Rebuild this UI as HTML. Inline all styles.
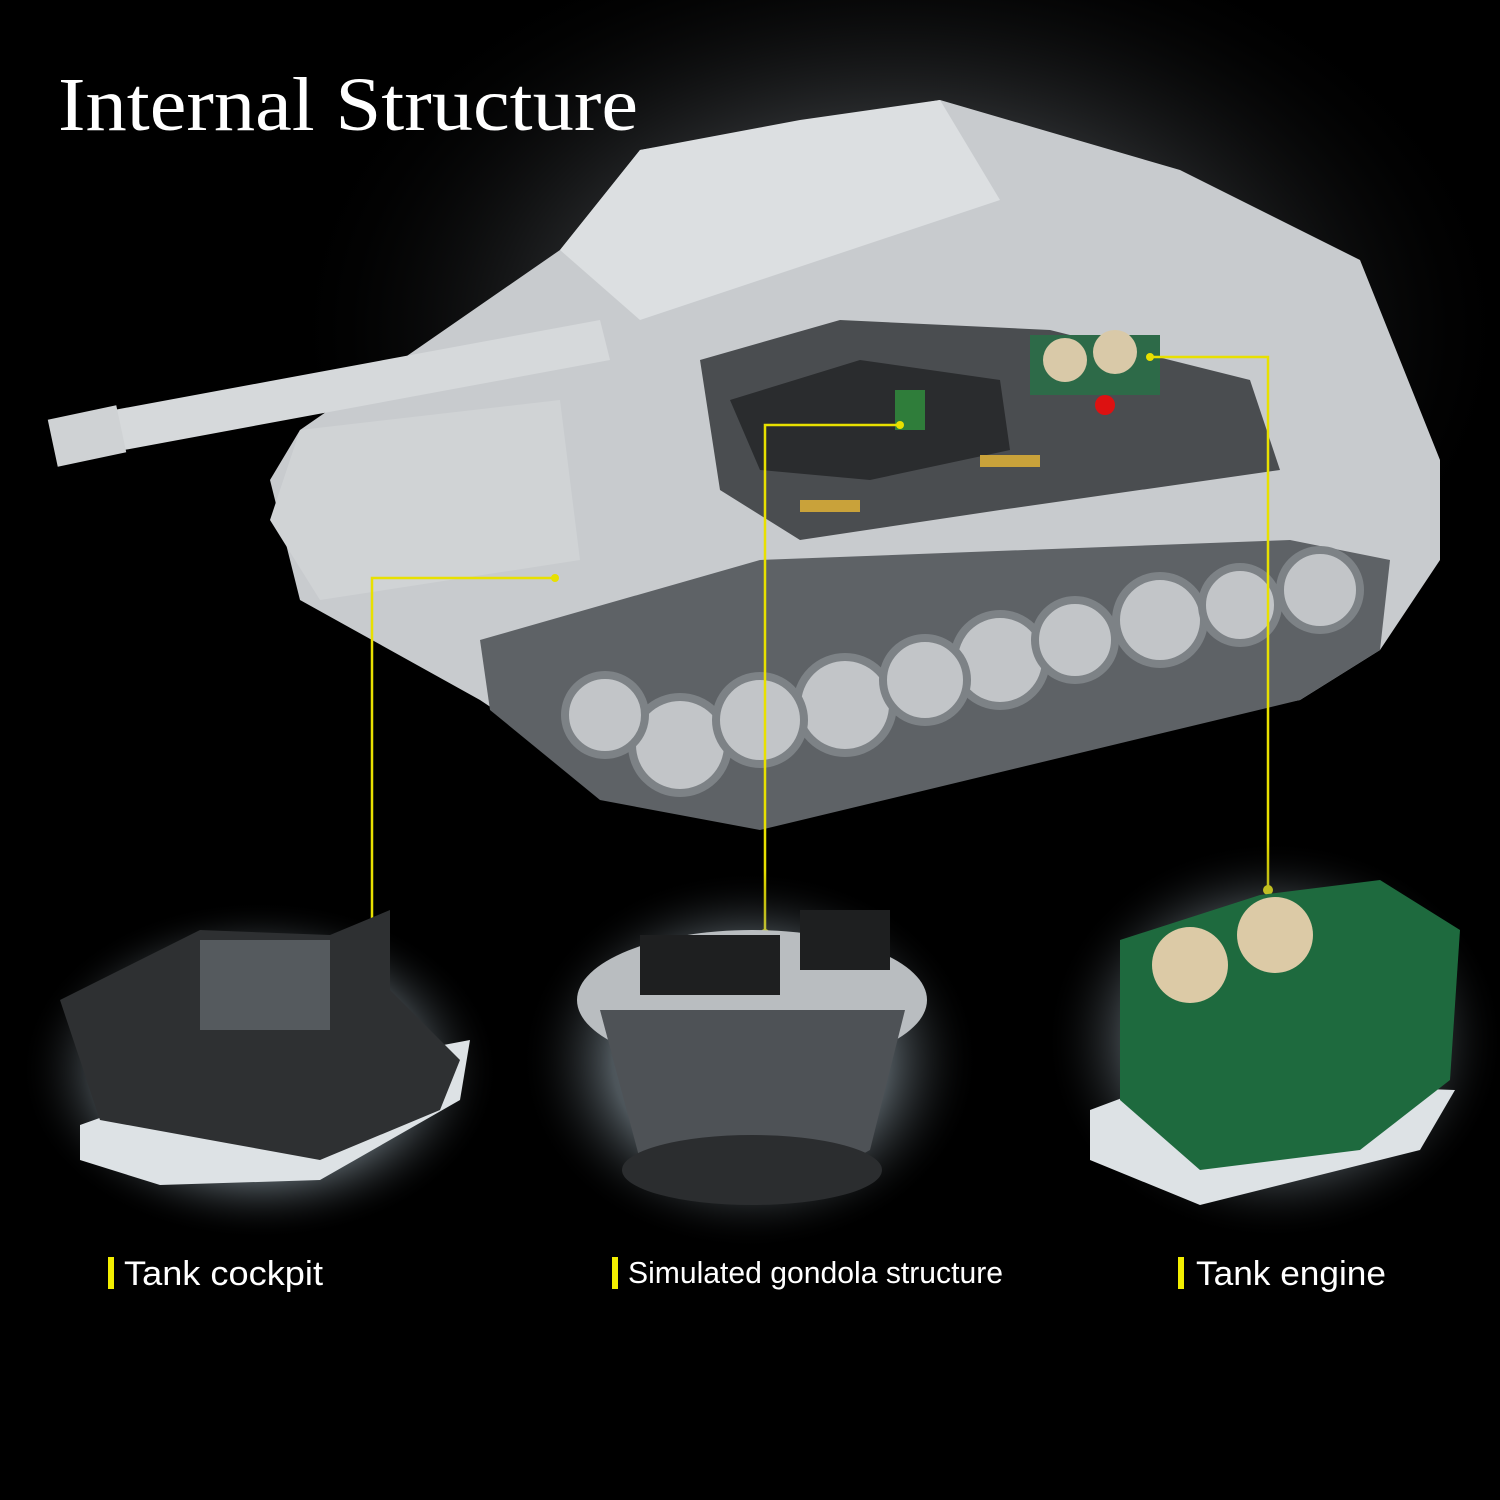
<!DOCTYPE html>
<html><head><meta charset="utf-8"><style>
html,body{margin:0;padding:0;background:#000;}
svg{display:block}
</style></head><body>
<svg width="1500" height="1500" viewBox="0 0 1500 1500" xmlns="http://www.w3.org/2000/svg">
<defs>
<radialGradient id="bg" cx="0.5" cy="0.5" r="0.5">
<stop offset="0" stop-color="#5a5e62"/><stop offset="0.5" stop-color="#2a2c2e"/><stop offset="1" stop-color="#000" stop-opacity="0"/>
</radialGradient>
<radialGradient id="glow" cx="0.5" cy="0.5" r="0.5">
<stop offset="0" stop-color="#dfe8ee"/><stop offset="0.6" stop-color="#9fb0bb" stop-opacity="0.6"/><stop offset="1" stop-color="#000" stop-opacity="0"/>
</radialGradient>
</defs>
<rect width="1500" height="1500" fill="#000"/>
<ellipse cx="900" cy="330" rx="620" ry="420" fill="url(#bg)"/>
<!-- tank body -->
<polygon points="270,480 300,430 560,250 640,150 940,100 1180,170 1360,260 1440,460 1440,560 1380,650 1300,700 760,800 600,780 480,700 300,600" fill="#c8cbce"/>
<polygon points="480,640 760,560 1290,540 1390,560 1380,650 1300,700 760,830 600,800 490,710" fill="#5e6266"/>
<!-- wheels -->
<g fill="#c2c5c8" stroke="#7d8286" stroke-width="8">
<circle cx="680" cy="745" r="48"/><circle cx="845" cy="705" r="48"/><circle cx="1000" cy="660" r="46"/><circle cx="1160" cy="620" r="44"/><circle cx="1320" cy="590" r="40"/>
<circle cx="760" cy="720" r="44"/><circle cx="925" cy="680" r="42"/><circle cx="1075" cy="640" r="40"/><circle cx="1240" cy="605" r="38"/>
<circle cx="605" cy="715" r="40"/>
</g>
<!-- interior dark area -->
<polygon points="700,360 840,320 1050,330 1250,380 1280,470 1000,510 800,540 720,490" fill="#4a4d50"/>
<polygon points="730,400 860,360 1000,380 1010,450 870,480 760,470" fill="#2a2c2e"/>
<rect x="1030" y="335" width="130" height="60" fill="#2d6a48"/>
<circle cx="1065" cy="360" r="22" fill="#d9c9a8"/><circle cx="1115" cy="352" r="22" fill="#d9c9a8"/>
<circle cx="1105" cy="405" r="10" fill="#d11"/>
<rect x="895" y="390" width="30" height="40" fill="#2f7d3a"/>
<rect x="980" y="455" width="60" height="12" fill="#c9a23a"/><rect x="800" y="500" width="60" height="12" fill="#c9a23a"/>
<!-- turret and gun -->
<polygon points="560,250 640,150 800,120 940,100 1000,200 820,260 640,320" fill="#dcdfe1"/>
<polygon points="60,420 600,320 610,360 70,460" fill="#d6d9db"/>
<rect x="52" y="412" width="70" height="48" fill="#cfd2d4" transform="rotate(-12 87 436)"/>
<polygon points="300,430 560,400 580,560 320,600 270,520" fill="#d0d3d5"/>
<!-- yellow connectors -->
<g stroke="#e8e000" stroke-width="2.5" fill="none">
<polyline points="555,578 372,578 372,935"/>
<polyline points="900,425 765,425 765,935"/>
<polyline points="1150,357 1268,357 1268,890"/>
</g>
<g fill="#e8e000"><circle cx="555" cy="578" r="4"/><circle cx="900" cy="425" r="4"/><circle cx="1150" cy="357" r="4"/><circle cx="372" cy="936" r="4"/><circle cx="765" cy="934" r="5"/><circle cx="1268" cy="890" r="5"/></g>
<!-- cockpit -->
<ellipse cx="260" cy="1070" rx="240" ry="170" fill="url(#glow)"/>
<polygon points="80,1125 150,1100 470,1040 460,1100 320,1180 160,1185 80,1160" fill="#dde2e5"/>
<polygon points="60,1000 200,930 330,935 390,910 390,990 460,1060 440,1110 320,1160 100,1120" fill="#2e3032"/>
<rect x="200" y="940" width="130" height="90" fill="#555a5e"/>
<!-- gondola -->
<ellipse cx="750" cy="1060" rx="230" ry="190" fill="url(#glow)" opacity="0.8"/>
<ellipse cx="752" cy="1000" rx="175" ry="70" fill="#b9bdc0"/>
<polygon points="600,1010 905,1010 870,1150 780,1200 640,1160" fill="#4e5256"/>
<ellipse cx="752" cy="1170" rx="130" ry="35" fill="#2b2d2f"/>
<rect x="640" y="935" width="140" height="60" fill="#1e1f20"/><rect x="800" y="910" width="90" height="60" fill="#1e1f20"/>
<!-- engine -->
<ellipse cx="1275" cy="1040" rx="230" ry="200" fill="url(#glow)" opacity="0.8"/>
<polygon points="1090,1110 1170,1080 1455,1090 1420,1150 1200,1205 1090,1160" fill="#dde2e5"/>
<polygon points="1120,940 1260,895 1380,880 1460,930 1450,1080 1360,1150 1200,1170 1120,1100" fill="#1e6a3e"/>
<circle cx="1190" cy="965" r="38" fill="#dccaa6"/><circle cx="1275" cy="935" r="38" fill="#dccaa6"/>
<!-- title -->
<text x="58" y="130" font-family="Liberation Serif, serif" font-size="76" fill="#fff" textLength="580" lengthAdjust="spacingAndGlyphs">Internal Structure</text>
<!-- labels -->
<g fill="#f2ee00"><rect x="108" y="1257" width="6" height="32"/><rect x="612" y="1257" width="6" height="32"/><rect x="1178" y="1257" width="6" height="32"/></g>
<g font-family="Liberation Sans, sans-serif" fill="#fff">
<text x="124" y="1285" font-size="34" textLength="199" lengthAdjust="spacingAndGlyphs">Tank cockpit</text>
<text x="628" y="1283" font-size="31" textLength="375" lengthAdjust="spacingAndGlyphs">Simulated gondola structure</text>
<text x="1196" y="1285" font-size="34" textLength="190" lengthAdjust="spacingAndGlyphs">Tank engine</text>
</g>
</svg>
</body></html>
